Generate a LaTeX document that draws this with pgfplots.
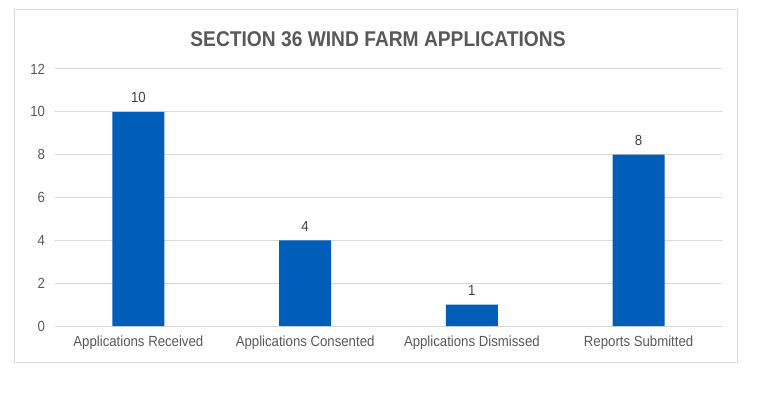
\documentclass[border=0pt]{standalone}
\usepackage{pgfplots}
\pgfplotsset{compat=1.18}
\usepackage{fontspec}
\setmainfont{Liberation Sans}[FakeStretch=0.9]
\definecolor{barblue}{RGB}{0,94,184}
\definecolor{gridgray}{RGB}{217,217,217}
\definecolor{txtgray}{RGB}{89,89,89}
\definecolor{lbl}{RGB}{64,64,64}
\begin{document}
\begin{tikzpicture}[x=0.75pt,y=0.75pt]
\path[use as bounding box] (0,0) rectangle (759,397);
\draw[gridgray,line width=0.75pt] (14,35) rectangle (737,387);
\node[font=\bfseries\fontsize{16}{18}\selectfont, text=txtgray] at (378,358) {SECTION 36 WIND FARM APPLICATIONS};
\begin{axis}[
  at={(55pt*0.75,71pt*0.75)}, anchor=south west,
  scale only axis, width=500.25pt, height=192.75pt,
  xmin=-0.5, xmax=3.5, ymin=0, ymax=12,
  ytick={0,2,...,12},
  xtick={0,1,2,3},
  xticklabels={Applications Received,Applications Consented,Applications Dismissed,Reports Submitted},
  axis line style={draw=none},
  major tick length=0pt,
  ymajorgrids, grid style={gridgray, line width=0.75pt},
  tick label style={text=txtgray, font=\fontsize{11}{13}\selectfont},
  /pgf/number format/assume math mode=true,
  yticklabel style={xshift=-4pt},
  xticklabel style={yshift=-4pt},
  nodes near coords,
  every node near coord/.append style={text=lbl, font=\fontsize{11}{13}\selectfont, yshift=3pt},
]
\addplot[ybar, bar width=39pt, fill=barblue, draw=none] coordinates {(0,10) (1,4) (2,1) (3,8)};
\end{axis}
\end{tikzpicture}
\end{document}
